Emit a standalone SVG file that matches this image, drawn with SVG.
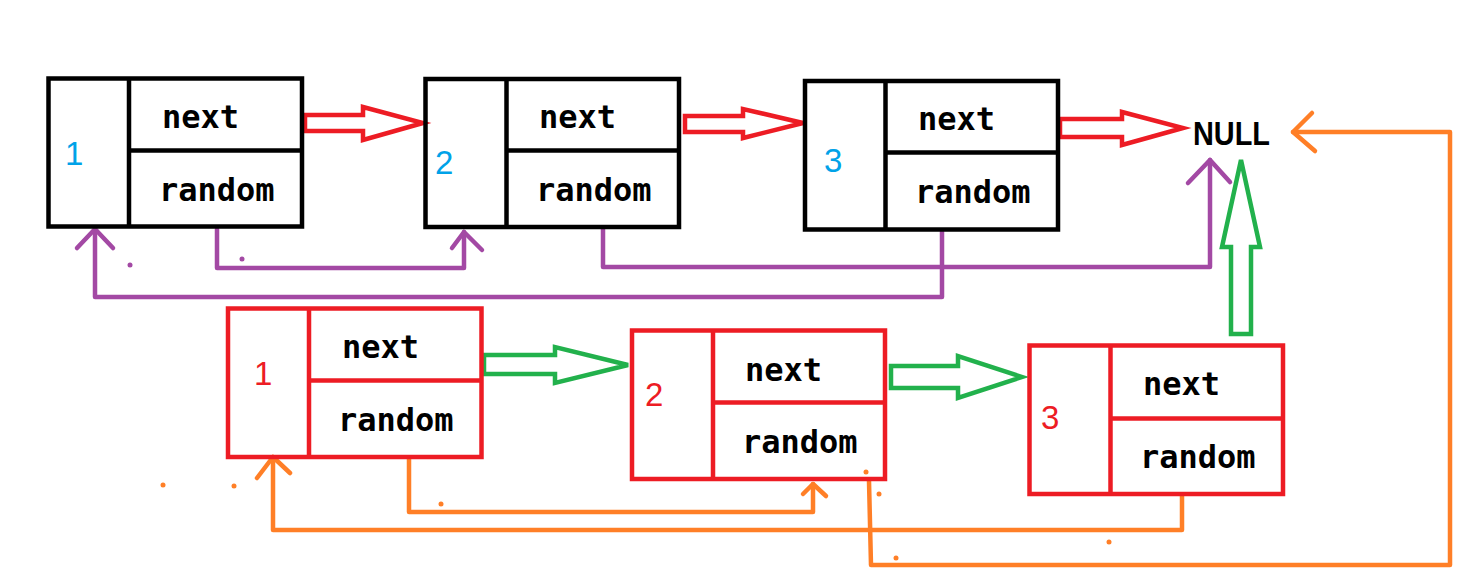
<svg xmlns="http://www.w3.org/2000/svg" width="1484" height="575" viewBox="0 0 1484 575">
<style>
.box{fill:none;stroke-width:4.5;stroke-linejoin:miter}
.blk{stroke:#000}
.red{stroke:#ed1c24}
.lbl{font-family:"DejaVu Sans Mono","Liberation Mono",monospace;font-weight:bold;font-size:32px;fill:#000}
.num{font-family:"Liberation Sans","Noto Sans",sans-serif;font-size:33px}
.nb{fill:#00a2e8}
.nr{fill:#ed1c24}
.harrow{fill:none;stroke-width:4.5;stroke-linejoin:miter}
.pl{fill:none;stroke:#a349a4;stroke-width:4.5;stroke-linecap:round;stroke-linejoin:round}
.ol{fill:none;stroke:#ff7f27;stroke-width:4.5;stroke-linecap:round;stroke-linejoin:round}
.pd{fill:#a349a4}
.od{fill:#ff7f27}
</style>
<rect width="1484" height="575" fill="#fff"/>
<g id="connectors">
  <!-- red hollow arrows (top next) -->
  <polygon class="harrow" stroke="#ed1c24" points="305,115 363,115 363,107 423,123 363,140 363,131 305,131"/>
  <polygon class="harrow" stroke="#ed1c24" points="685,116 743,116 743,109 803,123 743,138 743,132 685,132"/>
  <polygon class="harrow" stroke="#ed1c24" points="1060,119 1122,119 1122,112 1183,128 1122,145 1122,137 1060,137"/>
  <!-- green hollow arrows (copy next) -->
  <polygon class="harrow" stroke="#22b14c" points="484,355 555,355 555,347 628,365 555,383 555,374 484,374"/>
  <polygon class="harrow" stroke="#22b14c" points="891,366 958,366 958,356 1022,377 958,398 958,388 891,388"/>
  <polygon class="harrow" stroke="#22b14c" points="1231,334 1231,247 1222,247 1241,160 1260,247 1251,247 1251,334"/>
  <!-- purple random pointers -->
  <polyline class="pl" points="217,229 217,268 464,268 464,232"/>
  <polyline class="pl" points="452,248 464,232 482,250"/>
  <polyline class="pl" points="942,231 942,297 95,297 95,229"/>
  <polyline class="pl" points="77,248 95,229 113,248"/>
  <polyline class="pl" points="603,229 603,267 1210,267 1210,160"/>
  <polyline class="pl" points="1188,183 1210,160 1230,182"/>
  <circle class="pd" cx="130" cy="265" r="2.5"/>
  <circle class="pd" cx="242" cy="259" r="2.5"/>
  <!-- orange random pointers -->
  <polyline class="ol" points="409,459 409,512 813,512 813,484"/>
  <polyline class="ol" points="803,494 813,484 826,496"/>
  <polyline class="ol" points="1182,496 1182,530 273,530 273,457"/>
  <polyline class="ol" points="257,478 273,457 290,473"/>
  <polyline class="ol" points="869,481 871,565 1450,565 1450,132 1293,132"/>
  <polyline class="ol" points="1312,113 1293,132 1315,151"/>
  <circle class="od" cx="163" cy="485" r="2.5"/>
  <circle class="od" cx="234" cy="486" r="2.5"/>
  <circle class="od" cx="441" cy="504" r="2.5"/>
  <circle class="od" cx="866" cy="472" r="2.5"/>
  <circle class="od" cx="879" cy="494" r="2.5"/>
  <circle class="od" cx="896" cy="558" r="2.5"/>
  <circle class="od" cx="1109" cy="542" r="2.5"/>
</g>
<g id="node1">
  <rect class="box blk" x="48.5" y="78.5" width="253.5" height="148"/>
  <line class="box blk" x1="129" y1="78.5" x2="129" y2="226.5"/>
  <line class="box blk" x1="129" y1="150.5" x2="302" y2="150.5"/>
  <text class="num nb" x="65" y="165">1</text>
  <text class="lbl" x="162" y="128">next</text>
  <text class="lbl" x="159" y="201">random</text>
</g>
<g id="node2">
  <rect class="box blk" x="425.5" y="79" width="253.5" height="148"/>
  <line class="box blk" x1="506.5" y1="79" x2="506.5" y2="227"/>
  <line class="box blk" x1="506.5" y1="150.5" x2="679" y2="150.5"/>
  <text class="num nb" x="435" y="174">2</text>
  <text class="lbl" x="539" y="128">next</text>
  <text class="lbl" x="536" y="201">random</text>
</g>
<g id="node3">
  <rect class="box blk" x="805" y="81" width="253" height="148.5"/>
  <line class="box blk" x1="885.5" y1="81" x2="885.5" y2="229.5"/>
  <line class="box blk" x1="885.5" y1="152.5" x2="1058" y2="152.5"/>
  <text class="num nb" x="824" y="172">3</text>
  <text class="lbl" x="918" y="130">next</text>
  <text class="lbl" x="915" y="203">random</text>
</g>
<g id="null">
  <text x="1193" y="145" font-family="'Liberation Sans',Arial,sans-serif" font-weight="bold" font-size="34" textLength="77" lengthAdjust="spacingAndGlyphs" fill="#000">NULL</text>
</g>
<g id="copy1">
  <rect class="box red" x="228" y="308.5" width="253.5" height="148.5"/>
  <line class="box red" x1="309" y1="308.5" x2="309" y2="457"/>
  <line class="box red" x1="309" y1="380.5" x2="481.5" y2="380.5"/>
  <text class="num nr" x="254" y="385">1</text>
  <text class="lbl" x="342" y="358">next</text>
  <text class="lbl" x="338" y="431">random</text>
</g>
<g id="copy2">
  <rect class="box red" x="632" y="330.5" width="253" height="148.5"/>
  <line class="box red" x1="713" y1="330.5" x2="713" y2="479"/>
  <line class="box red" x1="713" y1="402.5" x2="885" y2="402.5"/>
  <text class="num nr" x="645" y="406">2</text>
  <text class="lbl" x="745" y="381">next</text>
  <text class="lbl" x="742" y="453">random</text>
</g>
<g id="copy3">
  <rect class="box red" x="1029.5" y="345.5" width="253.5" height="148.5"/>
  <line class="box red" x1="1110.5" y1="345.5" x2="1110.5" y2="494"/>
  <line class="box red" x1="1110.5" y1="418.5" x2="1283" y2="418.5"/>
  <text class="num nr" x="1041" y="429">3</text>
  <text class="lbl" x="1143" y="395">next</text>
  <text class="lbl" x="1140" y="468">random</text>
</g>
</svg>
